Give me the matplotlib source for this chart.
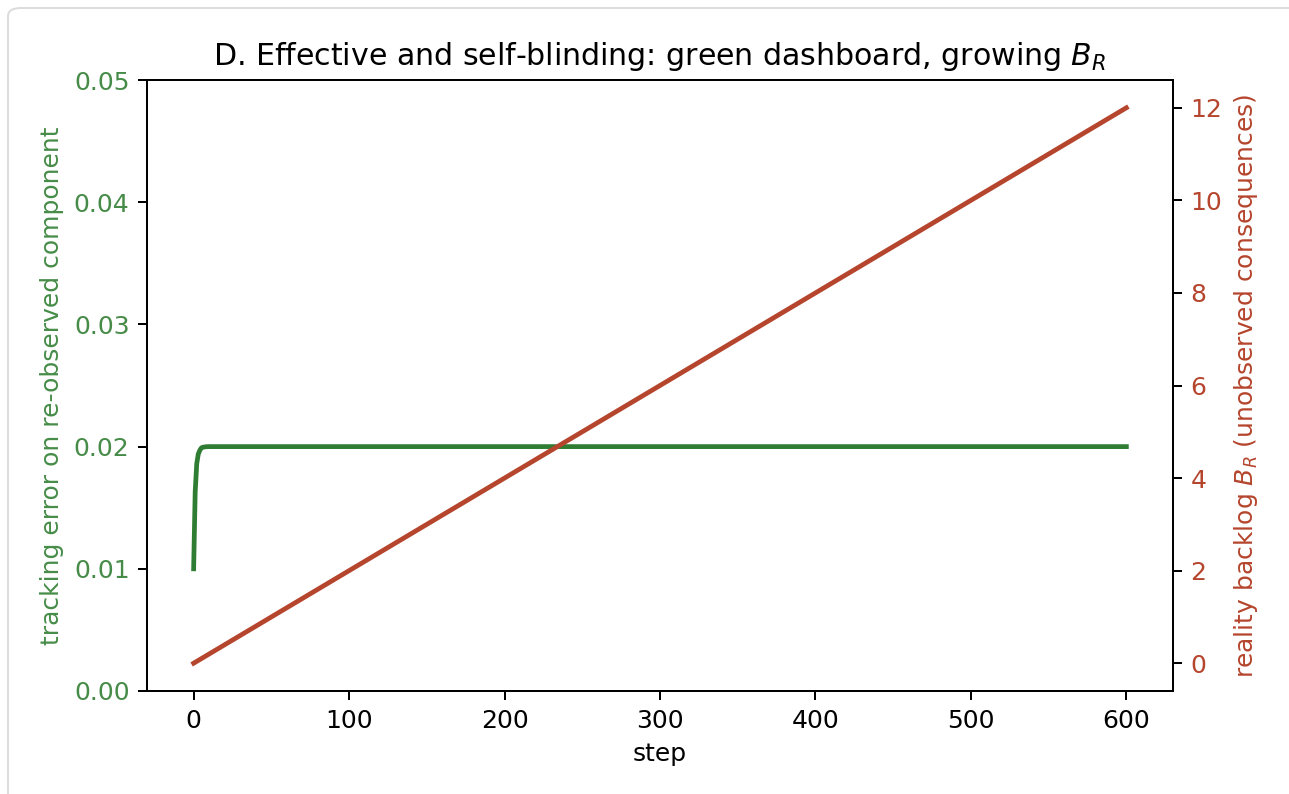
import matplotlib
matplotlib.use("Agg")
import matplotlib.pyplot as plt
from matplotlib.patches import FancyBboxPatch

# tracking error on the re-observed component (left axis)
err_steps = [0, 1, 2, 3, 4, 5, 6, 8, 10, 600]
err_vals = [0.010, 0.0163, 0.0186, 0.0194, 0.0197, 0.0199, 0.01995, 0.01999, 0.020, 0.020]

# reality backlog B_R (right axis)
backlog_steps = [0, 100, 200, 300, 400, 500, 600]
backlog_vals = [0, 2, 4, 6, 8, 10, 12]

green = '#2e7d32'
green_txt = '#468c48'
red = '#b5452d'

W, H, DPI = 1289, 794, 180
fig = plt.figure(figsize=(W / DPI, H / DPI), dpi=DPI)
fig.patch.set_facecolor('white')

# light card frame around the figure
card = FancyBboxPatch((8 / W, -0.05), 1.2, 1 - 8 / H + 0.05,
                      boxstyle="round,pad=0,rounding_size=0.01",
                      transform=fig.transFigure, facecolor='white',
                      edgecolor='#dcdcdc', linewidth=0.8, zorder=-10)
fig.patches.append(card)

ax = fig.add_axes([147 / W, 1 - 691 / H, (1173 - 147) / W, (691 - 80) / H])
ax.plot(err_steps, err_vals, color=green, lw=1.9)
ax.set_ylim(0, 0.05)
ax.set_xlabel('step')
ax.set_ylabel('tracking error on re-observed component', color=green_txt)
ax.tick_params(axis='y', labelcolor=green_txt, color='black')
ax.set_title('D. Effective and self-blinding: green dashboard, growing $B_R$')

ax2 = ax.twinx()
ax2.plot(backlog_steps, backlog_vals, color=red, lw=1.9)
ax2.set_ylabel('reality backlog $B_R$ (unobserved consequences)', color=red)
ax2.tick_params(axis='y', labelcolor=red, color='black')

ax.set_xlim(-30, 630)

fig.savefig('out.png', dpi=DPI, facecolor='white')
